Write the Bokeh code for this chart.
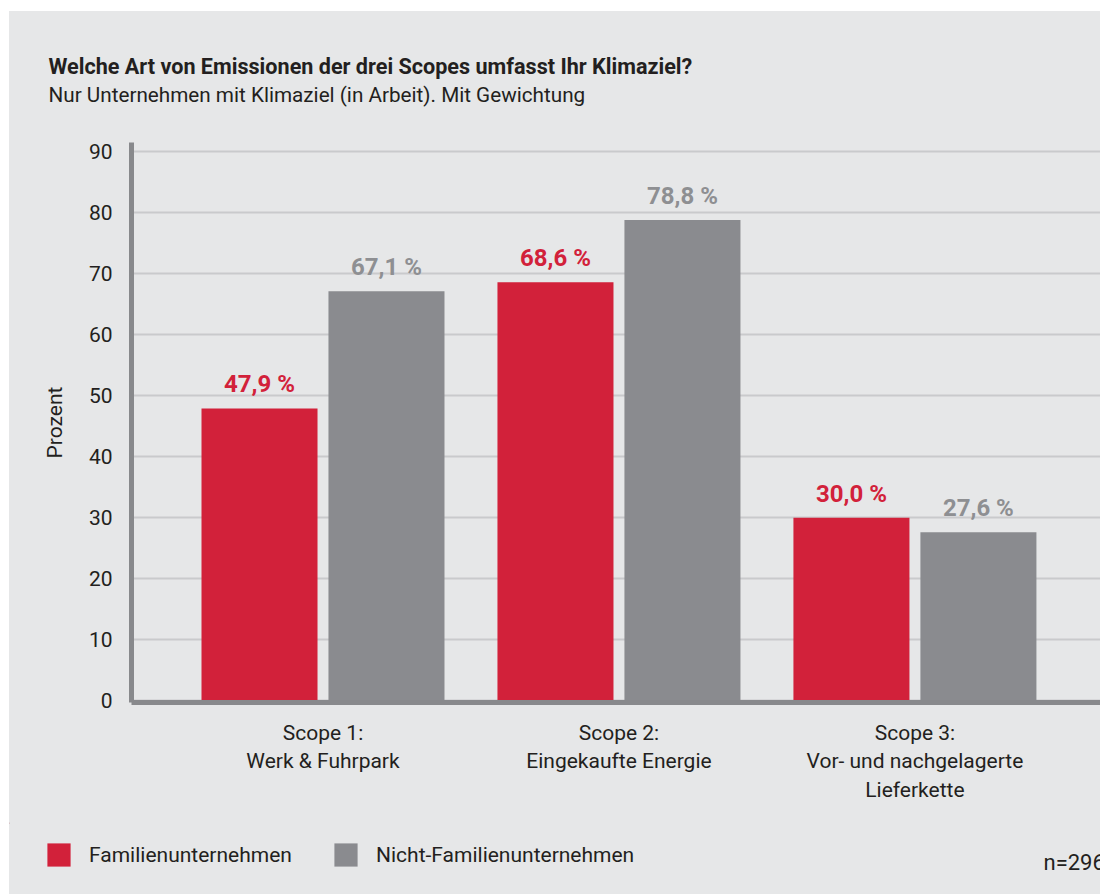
from bokeh.plotting import figure
from bokeh.models import (ColumnDataSource, FixedTicker, Range1d, LabelSet,
                          Legend, LegendItem, Spacer)
from bokeh.layouts import column, row
from bokeh.core.properties import value
from bokeh.transform import dodge
from bokeh.embed import file_html
from bokeh.resources import INLINE

# ---------------- data ----------------
categories = ["Scope 1:\nWerk & Fuhrpark",
              "Scope 2:\nEingekaufte Energie",
              "Scope 3:\nVor- und nachgelagerte\nLieferkette"]
familien = [47.9, 68.6, 30.0]
nicht_familien = [67.1, 78.8, 27.6]
series_names = ["Familienunternehmen", "Nicht-Familienunternehmen"]
y_ticks = [0, 10, 20, 30, 40, 50, 60, 70, 80, 90]
title_text = "Welche Art von Emissionen der drei Scopes umfasst Ihr Klimaziel?"
subtitle_text = "Nur Unternehmen mit Klimaziel (in Arbeit). Mit Gewichtung"
n_text = "n=296"
y_label = "Prozent"

# ---------------- style ----------------
BG = "#e6e7e8"
RED = "#d2213a"
GREY = "#8a8b8f"
GREY_TXT = "#8e8f92"
AXIS = "#88898c"
GRID = "#c9cacc"
TXT = "#231f20"
FONT = "Roboto"
FS = "21px"

LEFT_GAP, TOP_GAP = 9, 11
W = 1100 - LEFT_GAP
HEAD_H = 114
MAIN_H = 697
FOOT_H = 894 - TOP_GAP - HEAD_H - MAIN_H


def blank(h):
    f = figure(width=W, height=h, output_backend="svg", toolbar_location=None,
               x_range=Range1d(0, W), y_range=Range1d(h, 0),
               x_axis_type=None, y_axis_type=None, min_border=0,
               frame_align=False)
    f.background_fill_color = BG
    f.border_fill_color = BG
    f.outline_line_color = None
    f.grid.visible = False
    return f


# ---------------- header ----------------
head = blank(HEAD_H)
head.text(x=[48 - LEFT_GAP], y=[66 - TOP_GAP], text=[title_text],
          text_font=value(FONT), text_font_size="21.6px", text_font_style="bold",
          text_color=TXT, text_baseline="alphabetic")
head.text(x=[48 - LEFT_GAP], y=[94 - TOP_GAP], text=[subtitle_text],
          text_font=value(FONT), text_font_size="20.7px", text_color=TXT,
          text_baseline="alphabetic")

# ---------------- main chart ----------------
ML, MT, MB = 122, 17, 120
x_start, x_end = 0.353, 3.627
y_start, y_end = -0.3, 91.5

xs = list(range(1, len(categories) + 1))
fmt = lambda v: f"{v:.1f}".replace(".", ",") + " %"
src = ColumnDataSource(dict(
    x=xs, fam=familien, nfam=nicht_familien,
    fam_lab=[fmt(v) for v in familien],
    nfam_lab=[fmt(v) for v in nicht_familien],
))

p = figure(width=W, height=MAIN_H, output_backend="svg", toolbar_location=None,
           x_range=Range1d(x_start, x_end), y_range=Range1d(y_start, y_end),
           min_border_left=ML, min_border_right=0, min_border_top=MT,
           min_border_bottom=MB, frame_align=False)
p.background_fill_color = BG
p.border_fill_color = BG
p.outline_line_color = None

BW = 0.392
OFF = 0.2145
p.vbar(x=dodge("x", -OFF, range=p.x_range), top="fam", width=BW, bottom=0,
       source=src, fill_color=RED, line_color=None)
p.vbar(x=dodge("x", OFF, range=p.x_range), top="nfam", width=BW, bottom=0,
       source=src, fill_color=GREY, line_color=None)

for col, lab, off, color in (("fam", "fam_lab", -OFF, RED),
                             ("nfam", "nfam_lab", OFF, GREY_TXT)):
    p.add_layout(LabelSet(x=dodge("x", off, range=p.x_range), y=col, text=lab,
                          source=src, y_offset=16, text_align="center",
                          text_baseline="alphabetic", text_font=value(FONT),
                          text_font_size="24px", text_font_style="bold",
                          text_color=color))

p.xgrid.grid_line_color = None
p.ygrid.grid_line_color = GRID
p.ygrid.grid_line_width = 2
p.ygrid.ticker = FixedTicker(ticks=y_ticks)

ya = p.yaxis[0]
ya.ticker = FixedTicker(ticks=y_ticks)
ya.axis_line_color = AXIS
ya.axis_line_width = 5
ya.major_tick_line_color = None
ya.minor_tick_line_color = None
ya.major_tick_out = 0
ya.major_tick_in = 0
ya.major_label_standoff = 19
ya.major_label_text_font = FONT
ya.major_label_text_font_size = FS
ya.major_label_text_color = TXT
ya.axis_label = y_label
ya.axis_label_text_font = FONT
ya.axis_label_text_font_size = FS
ya.axis_label_text_font_style = "normal"
ya.axis_label_text_color = TXT
ya.axis_label_standoff = 19

xa = p.xaxis[0]
xa.ticker = FixedTicker(ticks=xs)
xa.major_label_overrides = {x: c for x, c in zip(xs, categories)}
xa.axis_line_color = AXIS
xa.axis_line_width = 5
xa.major_tick_line_color = None
xa.minor_tick_line_color = None
xa.major_tick_out = 0
xa.major_tick_in = 0
xa.major_label_standoff = 18
xa.major_label_text_font = FONT
xa.major_label_text_font_size = FS
xa.major_label_text_color = TXT
xa.major_label_text_line_height = 1.2

# ---------------- footer (legend) ----------------
foot = blank(FOOT_H)
# swatch renderers for the legend (their single bar lies outside the view)
swatch = ColumnDataSource(dict(x=[-100], top=[1]))
f1 = foot.vbar(x="x", top="top", width=1, source=swatch, fill_color=RED, line_color=None)
f2 = foot.vbar(x="x", top="top", width=1, source=swatch, fill_color=GREY, line_color=None)
FOOT_TOP = TOP_GAP + HEAD_H + MAIN_H
for rend, name, px in ((f1, series_names[0], 44), (f2, series_names[1], 331)):
    lg = Legend(items=[LegendItem(label=name, renderers=[rend])],
                location=(px - LEFT_GAP, 894 - 869),
                orientation="horizontal", glyph_width=29, glyph_height=29,
                label_standoff=16, padding=0, margin=0, border_line_color=None,
                background_fill_alpha=0, label_text_font=FONT,
                label_text_font_size=FS, label_text_color=TXT, label_height=29)
    foot.add_layout(lg, "center")
foot.text(x=[1043 - LEFT_GAP], y=[862 - FOOT_TOP], text=[n_text],
          text_font=value(FONT), text_font_size="22px", text_color=TXT,
          text_baseline="alphabetic")

inner = column(head, p, foot, spacing=0, styles={"background-color": BG})
layout = column(Spacer(width=1100, height=TOP_GAP),
                row(Spacer(width=LEFT_GAP, height=HEAD_H + MAIN_H + FOOT_H),
                    inner, spacing=0),
                spacing=0)

open("out.html", "w").write(file_html(layout, INLINE))
